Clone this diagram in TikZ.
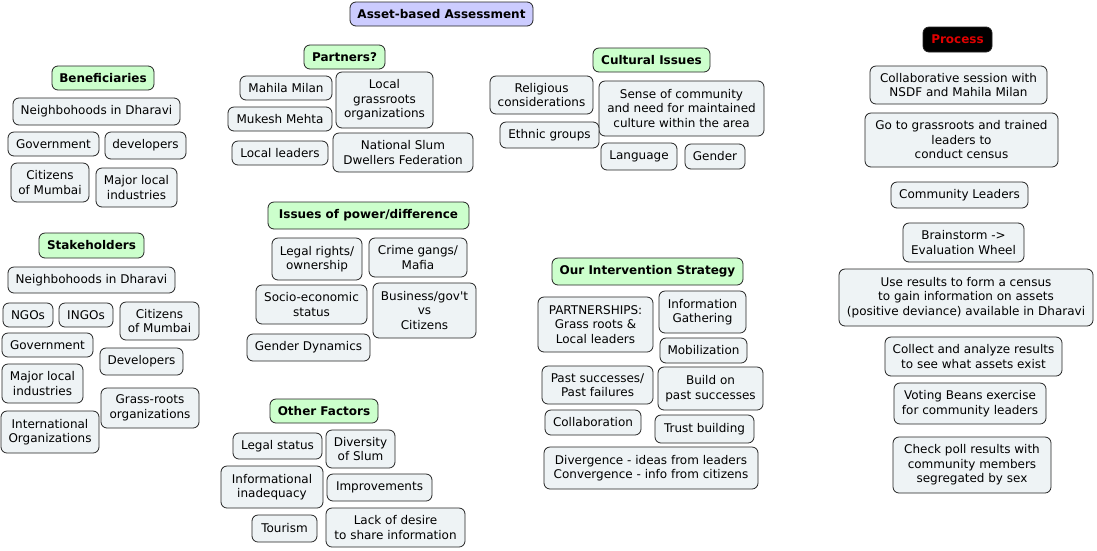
\documentclass[tikz,border=0pt]{standalone}
\usepackage{fontspec}
\setmainfont{DejaVu Sans}
\definecolor{itemFill}{HTML}{EEF3F5}
\definecolor{headFill}{HTML}{CCFFCC}
\definecolor{rootFill}{HTML}{CCCCFF}
\definecolor{lineDark}{HTML}{222222}
\definecolor{procRed}{HTML}{E00000}
\usetikzlibrary{positioning}

\begin{document}
\begin{tikzpicture}
		[x=1pt, y=-1pt,
		box/.style 2 args ={rectangle, draw=lineDark, line width=0.8pt, fill=itemFill, align=center, rounded corners=6pt, inner sep=0pt, minimum width=#1pt, minimum height=#2pt, font=\fontsize{12}{14.5}\selectfont},
		head/.style 2 args ={box={#1}{#2}, fill=headFill, font=\fontsize{12}{14.5}\selectfont\bfseries},
		root/.style 2 args ={box={#1}{#2}, fill=rootFill, font=\fontsize{12}{14.5}\selectfont\bfseries},
		proc/.style 2 args ={box={#1}{#2}, fill=black, text=procRed, font=\fontsize{12}{14.5}\selectfont\bfseries}]
		\useasboundingbox (0,0) rectangle (1097,550);

		\draw (441.5,14) node[root={183}{24}] (title) {Asset-based Assessment};

		% beneficiaries
		\draw (103,78) node[head={102}{24}] (ben) {Beneficiaries};
		\draw (96.5,111.5) node[box={167}{27}] (ben1) {Neighbohoods in Dharavi};
		\draw (53.5,144) node[box={91}{24}] (ben2) {Government};
		\draw (145.5,145.5) node[box={81}{27}] (ben3) {developers};
		\draw (50,182.5) node[box={78}{39}] (ben4) {Citizens\\of Mumbai};
		\draw (136.5,187.5) node[box={81}{39}] (ben5) {Major local\\industries};

		% stakeholders
		\draw (91.5,245.5) node[head={105}{25}] (stk) {Stakeholders};
		\draw (91.5,280) node[box={167}{26}] (stk1) {Neighbohoods in Dharavi};
		\draw (28,315) node[box={50}{24}] (stk2) {NGOs};
		\draw (86,315) node[box={54}{24}] (stk3) {INGOs};
		\draw (159.5,321) node[box={79}{38}] (stk4) {Citizens\\of Mumbai};
		\draw (47.5,345) node[box={91}{24}] (stk5) {Government};
		\draw (141.5,361.5) node[box={83}{27}] (stk6) {Developers};
		\draw (42.5,383.5) node[box={81}{39}] (stk7) {Major local\\industries};
		\draw (150,408) node[box={98}{40}] (stk8) {Grass-roots\\organizations};
		\draw (50,432) node[box={98}{42}] (stk9) {International\\Organizations};

		% partners
		\draw (344.5,57) node[head={81}{24}] (par) {Partners?};
		\draw (286,88) node[box={92}{24}] (par1) {Mahila Milan};
		\draw (280,119) node[box={104}{24}] (par2) {Mukesh Mehta};
		\draw (384.5,100) node[box={97}{56}] (par3) {Local\\grassroots\\organizations};
		\draw (280,153) node[box={96}{24}] (par4) {Local leaders};
		\draw (403,152.5) node[box={140}{39}] (par5) {National Slum\\Dwellers Federation};

		% issues of power
		\draw (368.5,215.5) node[head={201}{27}] (pow) {Issues of power/difference};
		\draw (317,259) node[box={90}{42}] (pow1) {Legal rights/\\ownership};
		\draw (418,257.5) node[box={98}{39}] (pow2) {Crime gangs/\\Mafia};
		\draw (311.5,304.5) node[box={111}{39}] (pow3) {Socio-economic\\status};
		\draw (424.5,310.5) node[box={103}{55}] (pow4) {Business/gov\textquotesingle t\\vs\\Citizens};
		\draw (308.5,347.5) node[box={123}{27}] (pow5) {Gender Dynamics};

		% other factors
		\draw (324,411) node[head={108}{24}] (oth) {Other Factors};
		\draw (277.5,446) node[box={89}{26}] (oth1) {Legal status};
		\draw (360.5,449) node[box={69}{38}] (oth2) {Diversity\\of Slum};
		\draw (272,487) node[box={102}{42}] (oth3) {Informational\\inadequacy};
		\draw (379.5,487.5) node[box={105}{27}] (oth4) {Improvements};
		\draw (284.5,528.5) node[box={65}{27}] (oth5) {Tourism};
		\draw (395.5,527.5) node[box={139}{39}] (oth6) {Lack of desire\\to share information};

		% cultural issues
		\draw (651.5,60) node[head={117}{24}] (cul) {Cultural Issues};
		\draw (541.5,95) node[box={103}{38}] (cul1) {Religious\\considerations};
		\draw (681.5,108.5) node[box={165}{55}] (cul2) {Sense of community\\and need for maintained\\culture within the area};
		\draw (549.5,135) node[box={99}{26}] (cul3) {Ethnic groups};
		\draw (639,156.5) node[box={76}{27}] (cul4) {Language};
		\draw (715,156.5) node[box={60}{25}] (cul5) {Gender};

		% intervention strategy
		\draw (647.5,271.5) node[head={191}{27}] (str) {Our Intervention Strategy};
		\draw (595.5,324.5) node[box={115}{55}] (str1) {PARTNERSHIPS:\\Grass roots \&\\Local leaders};
		\draw (702.5,312) node[box={87}{42}] (str2) {Information\\Gathering};
		\draw (703.5,350.5) node[box={87}{25}] (str3) {Mobilization};
		\draw (597.5,385) node[box={111}{38}] (str4) {Past successes/\\Past failures};
		\draw (710.5,388.5) node[box={105}{43}] (str5) {Build on\\past successes};
		\draw (593,422.5) node[box={96}{25}] (str6) {Collaboration};
		\draw (704.5,429) node[box={99}{28}] (str7) {Trust building};
		\draw (651,468) node[box={214}{42}] (str8) {Divergence - ideas from leaders\\Convergence - info from citizens};

		% process
		\draw (957.5,39.5) node[proc={69}{25}] (pro) {Process};
		\draw (958.5,85) node[box={177}{38}] (pro1) {Collaborative session with\\NSDF and Mahila Milan};
		\draw (961.5,140) node[box={193}{54}] (pro2) {Go to grassroots and trained\\leaders to\\conduct census};
		\draw (959.5,195) node[box={137}{26}] (pro3) {Community Leaders};
		\draw (963.5,242.5) node[box={121}{39}] (pro4) {Brainstorm ->\\Evaluation Wheel};
		\draw (966,297.5) node[box={254}{57}] (pro5) {Use results to form a census\\to gain information on assets\\(positive deviance) available in Dharavi};
		\draw (973.5,356.5) node[box={177}{39}] (pro6) {Collect and analyze results\\to see what assets exist};
		\draw (970,403.5) node[box={152}{41}] (pro7) {Voting Beans exercise\\for community leaders};
		\draw (972,465) node[box={158}{56}] (pro8) {Check poll results with\\community members\\segregated by sex};

	\end{tikzpicture}
\end{document}
